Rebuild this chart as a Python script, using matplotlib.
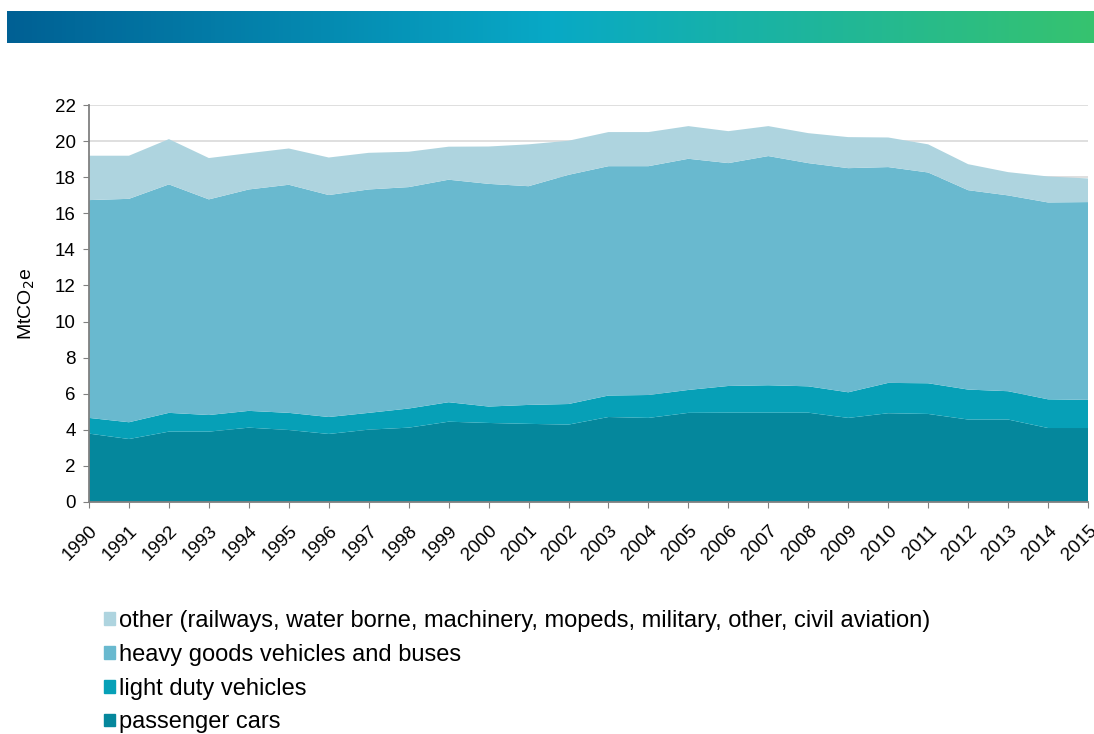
import numpy as np
import matplotlib.pyplot as plt
from matplotlib.patches import Patch
from matplotlib.colors import LinearSegmentedColormap

plt.rcParams['font.family'] = ['Liberation Sans', 'DejaVu Sans']

# Données (MtCO2e)
annees = list(range(1990, 2016))
voitures = [3.79, 3.49, 3.90, 3.90, 4.12, 3.99, 3.77, 4.01, 4.12, 4.45, 4.38, 4.33, 4.29,
            4.71, 4.66, 4.94, 4.95, 4.95, 4.95, 4.66, 4.92, 4.88, 4.57, 4.57, 4.10, 4.10]
utilitaires = [0.87, 0.93, 1.04, 0.92, 0.93, 0.95, 0.94, 0.93, 1.06, 1.08, 0.91, 1.05, 1.14,
               1.19, 1.27, 1.27, 1.48, 1.52, 1.46, 1.42, 1.68, 1.70, 1.66, 1.57, 1.59, 1.56]
poids_lourds = [12.07, 12.38, 12.66, 11.95, 12.27, 12.64, 12.30, 12.38, 12.27, 12.33, 12.34, 12.12, 12.70,
                12.71, 12.68, 12.81, 12.35, 12.70, 12.37, 12.42, 11.96, 11.68, 11.05, 10.85, 10.91, 10.96]
autres = [2.46, 2.39, 2.51, 2.29, 2.01, 2.01, 2.08, 2.03, 1.96, 1.83, 2.07, 2.32, 1.89,
          1.89, 1.89, 1.81, 1.77, 1.66, 1.66, 1.72, 1.64, 1.56, 1.44, 1.29, 1.44, 1.31]

labels = ['passenger cars', 'light duty vehicles', 'heavy goods vehicles and buses',
          'other (railways, water borne, machinery, mopeds, military, other, civil aviation)']
couleurs = ['#05879c', '#06a0b7', '#69b9cf', '#aed4df']

fig = plt.figure(figsize=(10.94, 7.34), dpi=100)

# Bandeau dégradé en haut
ax_bande = fig.add_axes([7 / 1094, 1 - 43 / 734, 1087 / 1094, 32 / 734])
cmap = LinearSegmentedColormap.from_list('bande', ['#006094', '#08a9c6', '#36c36f'])
ax_bande.imshow(np.linspace(0, 1, 256).reshape(1, -1), aspect='auto', cmap=cmap)
ax_bande.axis('off')

ax = fig.add_axes([89 / 1094, 1 - 502 / 734, 999 / 1094, 397 / 734])
ax.stackplot(annees, voitures, utilitaires, poids_lourds, autres,
             colors=couleurs, linewidth=0, zorder=2)

ax.set_xlim(1990, 2015)
ax.set_ylim(0, 22)
ax.set_yticks(range(0, 23, 2))
ax.set_xticks(annees)
ax.set_xticklabels([str(a) for a in annees], rotation=45, ha='right',
                   rotation_mode='anchor', fontsize=13.5)
ax.tick_params(axis='y', labelsize=13.5, color='#808080', length=4.5, pad=5)
ax.tick_params(axis='x', color='#808080', length=4.5, pad=10)
ax.yaxis.grid(True, color='#d9d9d9', linewidth=1.2, zorder=0)
ax.set_axisbelow(True)
for s in ['top', 'right']:
    ax.spines[s].set_visible(False)
for s in ['left', 'bottom']:
    ax.spines[s].set_color('#808080')
    ax.spines[s].set_linewidth(1.3)
ax.set_ylabel('MtCO$_2$e', fontsize=14)
ax.yaxis.set_label_coords(-0.052, 0.5)

# Légende
poignees = [Patch(color=c) for c in couleurs[::-1]]
fig.legend(poignees, labels[::-1], loc='upper left', bbox_to_anchor=(104 / 1094, 1 - 610 / 734),
           frameon=False, fontsize=17, handlelength=0.45, handleheight=0.45,
           handletextpad=0.2, labelspacing=0.5, borderaxespad=0, borderpad=0)

plt.savefig('out.png', dpi=100)
